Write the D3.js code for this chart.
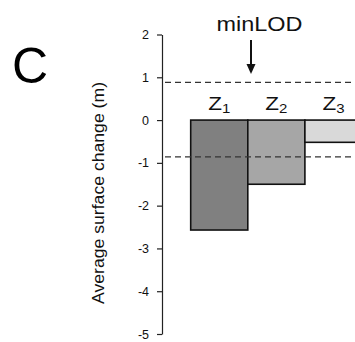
<!DOCTYPE html>
<html>
<head>
<meta charset="utf-8">
<script src="https://cdn.jsdelivr.net/npm/d3@7"></script>
<style>
  body { margin: 0; background: #fff; }
  text { font-family: "Liberation Sans", Arial, sans-serif; }
</style>
</head>
<body>
<div id="chart"></div>
<script>
// zones and their mean surface change (m)
const zones = ["Z1", "Z2", "Z3"];
const zoneSub = ["1", "2", "3"];
const changes = [-2.57, -1.5, -0.52];
const fills = ["#808080", "#a6a6a6", "#d9d9d9"];
// min level of detection band
const minLOD = [0.88, -0.86];
const yTicks = [2, 1, 0, -1, -2, -3, -4, -5];

const width = 355, height = 342;
const axisX = 162;

const svg = d3.select("#chart")
  .append("svg")
  .attr("width", width)
  .attr("height", height);

const y = d3.scaleLinear().domain([-5, 2]).range([334, 34.5]);
const x = d3.scaleBand().domain(zones).range([190.7, 362]).padding(0);

// y axis, plain hyphen for negatives
const yAxis = d3.axisLeft(y)
  .tickValues(yTicks)
  .tickFormat(d => String(d))
  .tickSize(5)
  .tickSizeOuter(0)
  .tickPadding(8);
const gy = svg.append("g")
  .attr("transform", "translate(" + axisX + ",0)")
  .call(yAxis);
gy.select(".domain").attr("stroke", "#222").attr("stroke-width", 1.2);
gy.selectAll(".tick line").attr("stroke", "#222").attr("stroke-width", 1.2);
gy.selectAll(".tick text")
  .style("font-size", "12.5px")
  .attr("fill", "#111");

// bars
svg.selectAll("rect.bar")
  .data(zones)
  .enter()
  .append("rect")
  .attr("class", "bar")
  .attr("x", d => x(d))
  .attr("y", y(0))
  .attr("width", x.bandwidth())
  .attr("height", (d, i) => y(changes[i]) - y(0))
  .attr("fill", (d, i) => fills[i])
  .attr("stroke", "#111")
  .attr("stroke-width", 1.6);

// dashed minLOD lines
svg.selectAll("line.lod")
  .data(minLOD)
  .enter()
  .append("line")
  .attr("class", "lod")
  .attr("x1", axisX + 3)
  .attr("x2", width)
  .attr("y1", d => y(d))
  .attr("y2", d => y(d))
  .attr("stroke", "#333")
  .attr("stroke-width", 1.2)
  .attr("stroke-dasharray", "6,4");

// zone labels with subscript (drawn a little wide, like the original)
const zl = svg.selectAll("text.zone")
  .data(zones)
  .enter()
  .append("text")
  .attr("class", "zone")
  .attr("transform", d => "translate(" + (x(d) + x.bandwidth() / 2) + ",110) scale(1.25,1)")
  .attr("text-anchor", "middle")
  .style("font-size", "18px")
  .attr("fill", "#111");
zl.append("tspan").text("Z");
zl.append("tspan")
  .text((d, i) => zoneSub[i])
  .attr("dy", 3)
  .style("font-size", "12px");

// minLOD label and arrow
svg.append("text")
  .attr("x", 216.5)
  .attr("y", 30.5)
  .attr("textLength", 86)
  .attr("lengthAdjust", "spacingAndGlyphs")
  .style("font-size", "20px")
  .attr("fill", "#111")
  .text("minLOD");

const ax = 251;
svg.append("line")
  .attr("x1", ax).attr("x2", ax)
  .attr("y1", 40).attr("y2", 66)
  .attr("stroke", "#111")
  .attr("stroke-width", 2);
svg.append("path")
  .attr("d", d3.line()([[ax - 4.5, 64], [ax + 4.5, 64], [ax, 74]]) + "Z")
  .attr("fill", "#111");

// y axis title
svg.append("text")
  .attr("transform", "translate(104,193) rotate(-90)")
  .attr("text-anchor", "middle")
  .attr("textLength", 222)
  .attr("lengthAdjust", "spacingAndGlyphs")
  .style("font-size", "17px")
  .attr("fill", "#111")
  .text("Average surface change (m)");

// panel letter
svg.append("text")
  .attr("x", 12)
  .attr("y", 83)
  .style("font-size", "50px")
  .attr("fill", "#000")
  .text("C");
</script>
</body>
</html>
